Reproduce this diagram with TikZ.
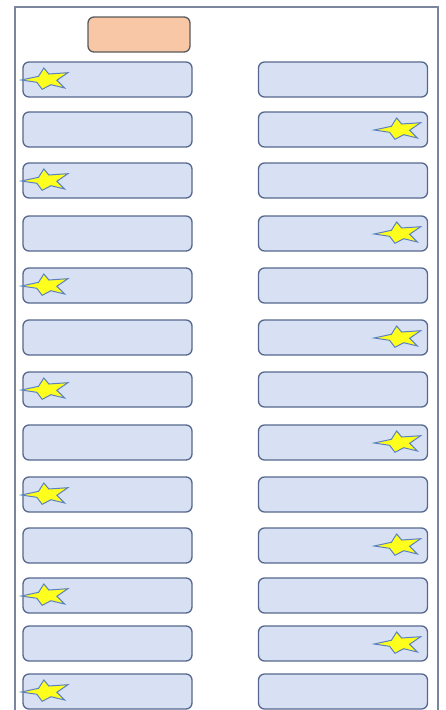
\documentclass[tikz,border=0pt]{standalone}
\usepackage{tikz}
\usetikzlibrary{positioning, calc}
\usepackage{xcolor}
\definecolor{ssFrame}{HTML}{7A86A0}
\definecolor{ssSlot}{HTML}{D7E1F3}
\definecolor{ssSlotLine}{HTML}{56688E}
\definecolor{ssHead}{HTML}{F7C7A6}
\definecolor{ssHeadLine}{HTML}{5A5A5A}
\definecolor{ssStar}{HTML}{FFFF1E}
\definecolor{ssStarLine}{HTML}{5B80C2}
\tikzset{
  ssslot/.style={rounded corners=6pt, draw=ssSlotLine, line width=1.3pt,
    fill=ssSlot, minimum width=169pt, minimum height=35pt, inner sep=0pt},
  sshead/.style={rounded corners=6pt, draw=ssHeadLine, line width=1.3pt,
    fill=ssHead, minimum width=102pt, minimum height=35pt, inner sep=0pt},
  ssframe/.style={draw=ssFrame, line width=1.4pt},
  starline/.style={draw=ssStarLine, fill=ssStar, line width=1pt, line join=miter},
  pics/starmark/.style={code={
    \draw[starline] (-23,1) -- (-5.8,-2.7) -- (-0.5,-11) -- (4.5,-5)
      -- (23.5,-6.3) -- (12.5,1.3) -- (20.3,9) -- (6.6,5.7)
      -- (-2.2,10.3) -- (-7.5,3.3) -- cycle;
  }},
}
\begin{document}
\begin{tikzpicture}[x=1pt, y=-1pt]
  \useasboundingbox (0,0) rectangle (445,710);

  % --- Frame ---------------------------------------------------------------
  \draw[ssframe] (15,712) -- (15,7) -- (438,7) -- (438,712);

  % --- Header box ----------------------------------------------------------
  \node[sshead] (head) at (139,34.5) {};

  % --- Two columns of slots, stars alternate left/right --------------------
  \foreach \y [count=\r] in {79.5,129.5,180.5,233.5,285.5,337.5,389.5,
                             442.5,494.5,545.5,595.5,643.5,691.5}{
    \node[ssslot] (L\r) at (107.5,\y) {};
    \node[ssslot] (R\r) at (343,\y) {};
    \ifodd\r
      \pic at ($(L\r.west)+(22,-0.5)$) {starmark};
    \else
      \pic at ($(R\r.east)+(-31,-0.5)$) {starmark};
    \fi
  }

\end{tikzpicture}
\end{document}
